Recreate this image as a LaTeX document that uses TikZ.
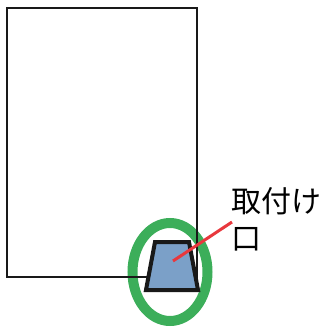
\documentclass[tikz,border=0pt]{standalone}
\usepackage{fontspec}
\newfontfamily\cjk{Noto Sans CJK JP}
\begin{document}
\begin{tikzpicture}[x=1pt,y=-1pt,
  frame/.style={draw=black!90,line width=1.5pt},
  ring/.style={line width=10pt},
  part/.style={draw=black!90,line width=4pt,line join=miter},
  leader/.style={line width=3pt},
  lbl/.style={font=\cjk\fontsize{30}{37}\selectfont,align=left,inner sep=0pt,anchor=north west}]
\useasboundingbox (0,0) rectangle (326,327);
\definecolor{ringgreen}{HTML}{3CAE5A}
\definecolor{partblue}{HTML}{7BA0C8}
\definecolor{leadred}{HTML}{E8383D}
\draw[ring,draw=ringgreen] (170,272) ellipse [x radius=37.5, y radius=49];
\draw[frame] (7,8) rectangle (197,277);
\coordinate (tl) at (155,242);
\coordinate (tr) at (189,242);
\coordinate (br) at (198,290);
\coordinate (bl) at (146,290);
\draw[part,fill=partblue] (tl) -- (tr) -- (br) -- (bl) -- cycle;
\coordinate (p) at (173,261);
\node[lbl] (t) at (231,187) {取付け\\口};
\coordinate (q) at (232,222);
\draw[leader,draw=leadred] (p) -- (q);
\end{tikzpicture}
\end{document}
